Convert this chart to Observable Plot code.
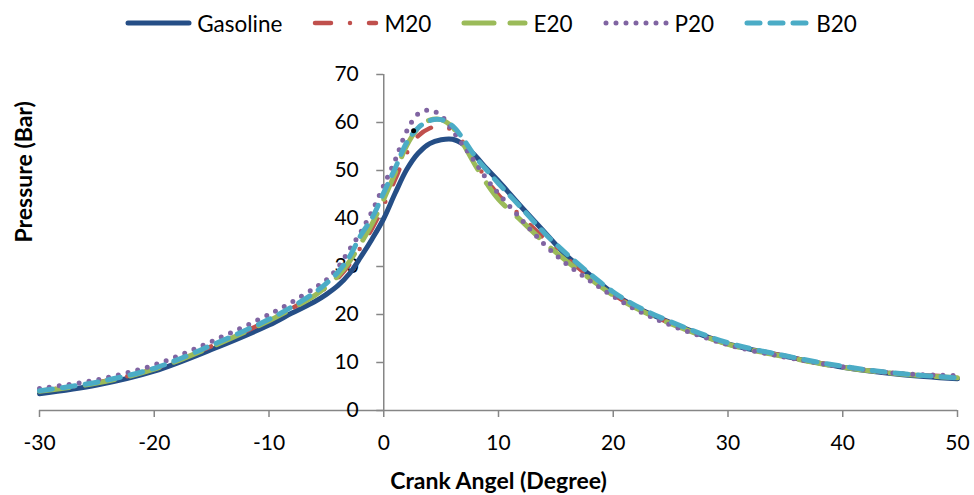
<!DOCTYPE html>
<html><head><meta charset="utf-8">
<script src="https://cdn.jsdelivr.net/npm/d3@7"></script>
<script src="https://cdn.jsdelivr.net/npm/@observablehq/plot@0.6"></script>
<style>
body{margin:0;background:#fff;font-family:Lato,"Liberation Sans",sans-serif;color:#000}
#legend{display:flex;justify-content:center;align-items:center;height:46px;gap:30px;padding-left:8px;font-size:22.5px}
.item{display:flex;align-items:center}
.item span{margin-left:5px}
</style></head><body>
<div id="legend"></div>
<div id="chart"></div>
<script>
// Crank angle (degree)
const angle = [-30,-25,-20,-15,-10,-8,-6,-5,-4,-3,-2,-1,0,1,2,3,4,5,6,7,8,9,10,12,14,16,18,20,22,25,30,35,40,45,50];
// Pressure (bar) per fuel
const gasoline = [3.5,5.3,8.2,12.7,17.8,20.3,22.7,24.2,26.0,28.5,32.0,35.8,40.0,45.3,50.2,53.6,55.6,56.4,56.5,55.3,53.0,50.3,47.8,42.4,37.2,32.1,28.2,24.4,21.5,18.3,13.9,11.3,9.0,7.5,6.6];
const m20      = [4.1,5.8,8.7,13.4,18.8,21.3,24.0,25.6,27.6,30.4,34.0,38.0,42.8,48.2,53.6,57.2,58.8,59.3,58.3,55.6,51.8,48.0,44.9,40.4,35.8,31.6,27.7,24.2,21.4,18.2,13.9,11.3,9.1,7.7,7.0];
const e20      = [4.0,5.7,8.6,13.3,18.7,21.2,24.0,25.8,28.0,31.0,34.8,39.0,44.0,49.5,55.2,58.8,60.5,60.6,59.0,55.2,51.0,47.2,44.0,39.5,35.0,31.0,27.4,24.0,21.3,18.1,13.8,11.2,9.0,7.6,6.8];
const p20      = [4.6,6.4,9.5,14.4,20.0,22.6,25.6,27.2,29.8,33.5,37.2,41.6,46.9,52.2,58.2,61.8,62.6,61.4,58.3,55.0,51.6,48.1,45.2,39.8,34.6,30.4,27.0,23.8,21.0,17.8,13.7,11.1,9.1,7.7,7.3];
const b20      = [4.1,5.9,8.8,13.6,19.0,21.6,24.6,26.5,28.8,32.0,36.5,40.2,45.4,50.5,55.8,58.9,60.4,60.6,59.3,56.3,52.8,50.0,47.3,42.2,37.0,32.5,28.4,24.7,21.8,18.5,14.1,11.4,9.2,7.7,6.8];
const seriesNames = ["Gasoline","M20","E20","P20","B20"];
// stray marker visible in the source
const markerAngle = [2.6];
const markerPressure = [58.3];
// axis ticks
const xTicks = [-30,-20,-10,0,10,20,30,40,50];
const yTicks = [0,10,20,30,40,50,60,70];

const styles = [
  {stroke:"#254E86", width:5, dash:null},
  {stroke:"#C0504D", width:4.5, dash:"16 19 0 19"},
  {stroke:"#9BBB59", width:5, dash:"30 16"},
  {stroke:"#8064A2", width:5, dash:"0 10"},
  {stroke:"#4BACC6", width:5, dash:"13 10"}
];
const seriesValues = [gasoline, m20, e20, p20, b20];
const rows = seriesValues.map(v => angle.map((a, i) => ({angle: a, p: v[i]})));
const axisColor = "#868686";

// legend
const legend = document.getElementById("legend");
seriesNames.forEach((name, k) => {
  const s = styles[k];
  const item = document.createElement("div");
  item.className = "item";
  item.innerHTML = `<svg width="67" height="12"><line x1="3" y1="6" x2="64" y2="6" stroke="${s.stroke}" stroke-width="${s.width}" stroke-linecap="round" ${s.dash ? `stroke-dasharray="${s.dash}"` : ""}/></svg><span>${name}</span>`;
  legend.appendChild(item);
});

const chart = Plot.plot({
  width: 974,
  height: 449,
  marginTop: 28,
  marginBottom: 85,
  marginLeft: 39,
  marginRight: 17,
  style: {fontFamily: "Lato, 'Liberation Sans', sans-serif", color: "#000", background: "#fff"},
  x: {domain: [xTicks[0], xTicks[xTicks.length - 1]], axis: null},
  y: {domain: [yTicks[0], yTicks[yTicks.length - 1]], axis: null},
  marks: [
    // x axis line and ticks
    Plot.ruleY([yTicks[0]], {x1: xTicks[0], x2: xTicks[xTicks.length - 1], stroke: axisColor, strokeWidth: 1.5}),
    Plot.ruleX(xTicks, {x: d => d, y1: () => 0, y2: () => 0, insetBottom: -7, stroke: axisColor, strokeWidth: 1.5}),
    Plot.text(xTicks, {x: d => d, y: () => 0, text: d => String(d), dy: 33, fontSize: 21, lineAnchor: "middle", fill: "#000"}),
    // y axis at x = 0
    Plot.ruleX([0], {y1: yTicks[0], y2: yTicks[yTicks.length - 1], stroke: axisColor, strokeWidth: 1.5}),
    Plot.ruleY(yTicks, {y: d => d, x1: () => 0, x2: () => 0, insetLeft: -7, stroke: axisColor, strokeWidth: 1.5}),
    Plot.text(yTicks, {x: () => 0, y: d => d, text: d => String(d), dx: -25, textAnchor: "end", lineAnchor: "middle", fontSize: 21, fill: "#000"}),
    // titles
    Plot.text(["Pressure (Bar)"], {frameAnchor: "left", dx: -15, rotate: -90, fontSize: 23, fontWeight: "bold", fill: "#000"}),
    Plot.text(["Crank Angel (Degree)"], {frameAnchor: "bottom", dy: 71, lineAnchor: "middle", fontSize: 23, fontWeight: "bold", fill: "#000"}),
    // series
    ...rows.map((r, k) => Plot.line(r, {
      x: "angle", y: "p", curve: "catmull-rom",
      stroke: styles[k].stroke, strokeWidth: styles[k].width,
      strokeDasharray: styles[k].dash ?? undefined,
      strokeLinecap: "round", strokeLinejoin: "round"
    })),
    Plot.dot(markerAngle.map((a, i) => ({angle: a, p: markerPressure[i]})), {x: "angle", y: "p", r: 2.5, fill: "#000", stroke: null})
  ]
});
document.getElementById("chart").appendChild(chart);
</script>
</body></html>
